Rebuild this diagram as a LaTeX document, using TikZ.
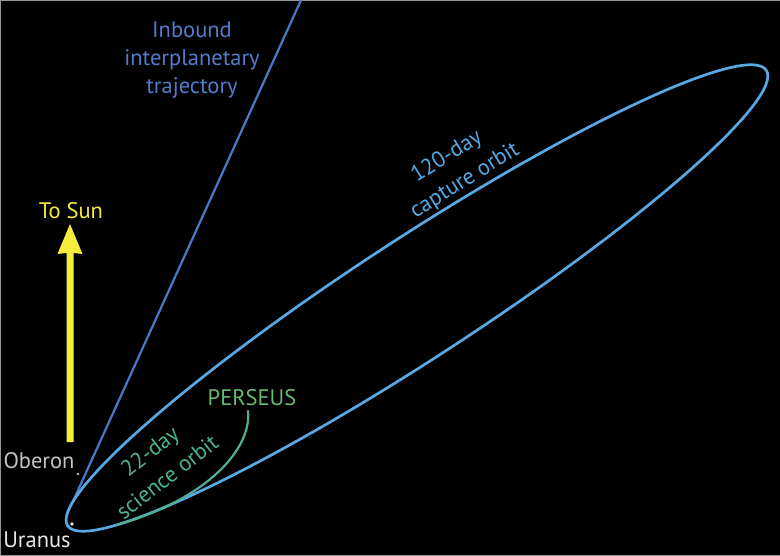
\documentclass[tikz,border=0pt]{standalone}
\usepackage{fontspec}
\setmainfont{PT Sans}
\definecolor{capblue}{RGB}{88,168,228}
\definecolor{inblue}{RGB}{72,122,200}
\definecolor{intext}{RGB}{84,124,204}
\definecolor{sciteal}{RGB}{78,176,146}
\definecolor{pergreen}{RGB}{104,186,112}
\definecolor{sunyellow}{RGB}{246,236,60}
\definecolor{obgray}{RGB}{196,196,196}
\definecolor{urwhite}{RGB}{232,232,232}
\definecolor{edgegray}{RGB}{150,150,150}
\tikzset{
  lbl/.style={font=\fontsize{22.5}{28}\selectfont, inner sep=0pt, align=center},
  orbitline/.style={line width=2.7pt, line cap=round},
}
\begin{document}
\begin{tikzpicture}[x=1pt,y=-1pt]
\useasboundingbox (0,0) rectangle (780,556);
\fill[black] (0,0) rectangle (780,556);
\draw[edgegray, line width=1pt] (0,0.5) -- (780,0.5);
\draw[edgegray, line width=1pt] (0.5,0) -- (0.5,556);
\draw[edgegray, line width=1pt] (0,555.5) -- (780,555.5);

% inbound trajectory
\coordinate (inTop) at (302,-2);
\coordinate (inBend) at (79,488);
\coordinate (inJoin) at (66.6,515.6);
\draw[inblue, line width=2.2pt] (inTop) -- (inBend) .. controls (75,498) and (69,508) .. (inJoin);

% capture orbit
\coordinate (capC) at (417,298);
\draw[capblue, orbitline, rotate around={33.1:(capC)}] (capC) ellipse [x radius=417pt, y radius=60pt];

% science orbit arc
\coordinate (sciTop) at (248,411);
\coordinate (sciJoin) at (116.6,524.9);
\draw[sciteal, line width=2.2pt, line cap=round] (sciTop) .. controls (252,450) and (205,500) .. (sciJoin);

% sun arrow
\coordinate (sunBase) at (70,442);
\coordinate (sunTip) at (70,224);
\fill[sunyellow] (66.5,442) -- (66.5,253) -- (57.5,254) -- (sunTip) -- (82.5,254) -- (73.5,253) -- (73.5,442) -- cycle;

% bodies
\fill[obgray] (78,474) circle (1.4);
\fill[urwhite] (72,524) circle (1.9);

% labels
\node[lbl, text=intext] (inbound) at (192,60) {Inbound\\interplanetary\\trajectory};
\node[lbl, text=sunyellow] (tosun) at (71,211) {To Sun};
\node[lbl, text=capblue, rotate=32] (capture1) at (447,157) {120-day};
\node[lbl, text=capblue, rotate=32] (capture2) at (465,181) {capture orbit};
\node[lbl, text=sciteal, rotate=38] (science1) at (151,453) {22-day};
\node[lbl, text=sciteal, rotate=38] (science2) at (167,477) {science orbit};
\node[lbl, text=pergreen] (perseus) at (252,398) {PERSEUS};
\node[lbl, text=obgray] (oberon) at (39,461) {Oberon};
\node[lbl, text=urwhite] (uranus) at (37,540) {Uranus};
\end{tikzpicture}
\end{document}
